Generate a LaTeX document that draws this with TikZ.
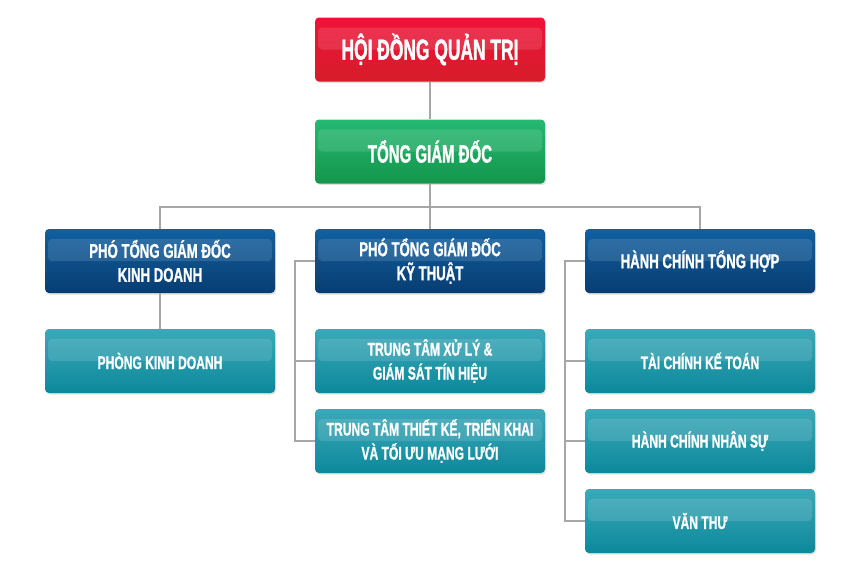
\documentclass[tikz,border=0pt]{standalone}
\usepackage{fontspec}
\usepackage{xcolor}
\usepackage{tikz}
\usetikzlibrary{shadows}
\newfontfamily\headfont{Liberation Sans}[FakeStretch=0.6,FakeBold=1.2]
\newfontfamily\unitfont{Liberation Sans}[FakeStretch=0.66,FakeBold=1]

\definecolor{redtop}{HTML}{EF1239}
\definecolor{redbot}{HTML}{D51D2B}
\definecolor{greentop}{HTML}{25B972}
\definecolor{greenbot}{HTML}{13964B}
\definecolor{bluetop}{HTML}{1160A0}
\definecolor{bluebot}{HTML}{083D72}
\definecolor{tealtop}{HTML}{3CA8B8}
\definecolor{tealbot}{HTML}{0C899C}
\definecolor{linkgray}{HTML}{A6A6A6}

\begin{document}
\begin{tikzpicture}[x=1pt,y=-1pt,
    unit/.style={rectangle, rounded corners=4pt, minimum width=230pt, minimum height=64pt,
        text=white, align=center, font=\unitfont\bfseries\fontsize{18.3}{24}\selectfont,
        drop shadow={opacity=.25, shadow xshift=1pt, shadow yshift=-1.5pt},
        path picture={\fill[white, fill opacity=.12]
            ([xshift=3pt,yshift=-10pt]path picture bounding box.north west) rectangle
            ([xshift=-3pt,yshift=-32pt]path picture bounding box.north east);}},
    board/.style={unit, top color=redtop, bottom color=redbot, font=\headfont\bfseries\fontsize{29}{30}\selectfont},
    ceo/.style={unit, top color=greentop, bottom color=greenbot, font=\headfont\bfseries\fontsize{25}{30}\selectfont},
    vice/.style={unit, top color=bluetop, bottom color=bluebot, font=\unitfont\bfseries\fontsize{20}{24}\selectfont},
    dept/.style={unit, top color=tealtop, bottom color=tealbot},
    link/.style={draw=linkgray, line width=2pt}]
            \useasboundingbox (0,0) rectangle (860,574);

            \node[board] (hdqt) at (430,49.5) {HỘI ĐỒNG QUẢN TRỊ};
            \node[ceo] (tgd) at (430,151.5) {TỔNG GIÁM ĐỐC};

            \node[vice] (ptgdkd) at (160,261) {PHÓ TỔNG GIÁM ĐỐC\\KINH DOANH};
            \node[vice] (ptgdkt) at (430,261) {PHÓ TỔNG GIÁM ĐỐC\\KỸ THUẬT};
            \node[vice] (hcth) at (700,261) {HÀNH CHÍNH TỔNG HỢP};

            \node[dept] (pkd) at (160,361) {PHÒNG KINH DOANH};
            \node[dept] (ttxl) at (430,361) {TRUNG TÂM XỬ LÝ \&\\GIÁM SÁT TÍN HIỆU};
            \node[dept] (tttk) at (430,441) {TRUNG TÂM THIẾT KẾ, TRIỂN KHAI\\VÀ TỐI ƯU MẠNG LƯỚI};
            \node[dept] (tckt) at (700,361) {TÀI CHÍNH KẾ TOÁN};
            \node[dept] (hcns) at (700,441) {HÀNH CHÍNH NHÂN SỰ};
            \node[dept] (vt) at (700,521) {VĂN THƯ};

            \coordinate (bus) at (430,207);

            \draw[link] (hdqt) -- (tgd);
            \draw[link] (tgd) -- (bus);
            \draw[link] (ptgdkd.north) |- (bus) -| (hcth.north);
            \draw[link] (bus) -- (ptgdkt);

            \draw[link] (ptgdkd) -- (pkd);

            \draw[link] (ptgdkt.west) -- ++(-20,0) |- (tttk.west);
            \draw[link] (ttxl.west) -- ++(-20,0);

            \draw[link] (hcth.west) -- ++(-20,0) |- (vt.west);
            \draw[link] (tckt.west) -- ++(-20,0);
            \draw[link] (hcns.west) -- ++(-20,0);
        \end{tikzpicture}
\end{document}
